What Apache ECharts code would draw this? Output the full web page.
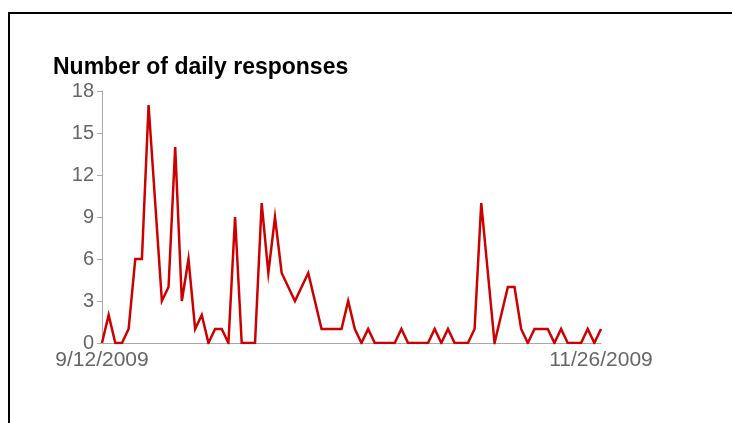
<!DOCTYPE html>
<html>
<head>
<meta charset="utf-8">
<script src="https://cdn.jsdelivr.net/npm/echarts@6/dist/echarts.min.js"></script>
<style>
  html, body { margin: 0; padding: 0; background: #fff; }
  #chart { width: 732px; height: 423px; }
</style>
</head>
<body>
<div id="chart"></div>
<script>
// daily counts, 9/12/2009 .. 11/26/2009
const responses = [
  0, 2, 0, 0, 1, 6, 6, 17, 10, 3,
  4, 14, 3, 6, 1, 2, 0, 1, 1, 0,
  9, 0, 0, 0, 10, 5, 9, 5, 4, 3,
  4, 5, 3, 1, 1, 1, 1, 3, 1, 0,
  1, 0, 0, 0, 0, 1, 0, 0, 0, 0,
  1, 0, 1, 0, 0, 0, 1, 10, 5, 0,
  2, 4, 4, 1, 0, 1, 1, 1, 0, 1,
  0, 0, 0, 1, 0, 1
];
const tickLabels = ['9/12/2009', '11/26/2009'];
const yTicks = [0, 3, 6, 9, 12, 15, 18];

// one category per day
const days = [];
const start = new Date(2009, 8, 12);
for (let i = 0; i < responses.length; i++) {
  const d = new Date(start.getFullYear(), start.getMonth(), start.getDate() + i);
  days.push((d.getMonth() + 1) + '/' + d.getDate() + '/' + d.getFullYear());
}

const chart = echarts.init(document.getElementById('chart'));

chart.setOption({
  animation: false,
  backgroundColor: '#fff',
  title: {
    text: 'Number of daily responses',
    left: 48,
    top: 51,
    textStyle: {
      fontFamily: 'Liberation Sans, Arial, sans-serif',
      fontSize: 23,
      fontWeight: 'bold',
      color: '#000'
    }
  },
  graphic: [{
    type: 'rect',
    shape: { x: 9, y: 13, width: 800, height: 500 },
    style: { fill: 'none', stroke: '#000', lineWidth: 2 }
  }],
  grid: { left: 102, right: 131, top: 91, bottom: 80 },
  xAxis: {
    type: 'category',
    boundaryGap: false,
    data: days,
    axisLine: { lineStyle: { color: '#aaa', width: 1 } },
    axisTick: { show: false },
    axisLabel: {
      interval: (i, v) => tickLabels.includes(v),
      showMinLabel: true,
      showMaxLabel: true,
      color: '#666',
      fontFamily: 'Liberation Sans, Arial, sans-serif',
      fontSize: 21,
      margin: 7
    },
    splitLine: { show: false }
  },
  yAxis: {
    type: 'value',
    min: yTicks[0],
    max: yTicks[yTicks.length - 1],
    interval: 3,
    axisLine: { show: true, lineStyle: { color: '#aaa', width: 1 } },
    axisTick: { show: true, length: 5, lineStyle: { color: '#aaa' } },
    axisLabel: {
      color: '#666',
      fontFamily: 'Liberation Sans, Arial, sans-serif',
      fontSize: 20,
      margin: 8
    },
    splitLine: { show: false }
  },
  series: [{
    name: 'Responses',
    type: 'line',
    data: responses,
    showSymbol: false,
    symbol: 'none',
    lineStyle: { color: '#cc0000', width: 2.5, join: 'miter' },
    itemStyle: { color: '#cc0000' }
  }]
});
</script>
</body>
</html>
